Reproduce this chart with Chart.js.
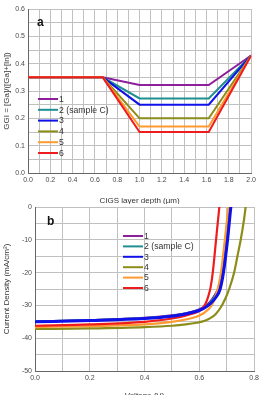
<!DOCTYPE html>
<html lang="en">
<head>
<meta charset="UTF-8">
<title>GGI profiles and J-V curves</title>
<script src="https://cdn.jsdelivr.net/npm/chart.js@4.4.0/dist/chart.umd.min.js"></script>
<style>
    body { margin: 0; background: #fff; overflow: hidden; width: 259px; height: 395px; position: relative; }
    .box { position: absolute; left: 0; }
    #topBox { top: 0; width: 259px; height: 204px; overflow: hidden; }
    #botBox { top: 195px; width: 262px; height: 210px; }
</style>
</head>
<body>
<div id="topBox" class="box"><canvas id="ggiChart"></canvas></div>
<div id="botBox" class="box"><canvas id="jvChart"></canvas></div>
<script>
// series names and colours
const names = ['1', '2 (sample C)', '3', '4', '5', '6'];
const colors = ['#8e1f9a', '#1f8f8f', '#1010e8', '#8c8c1a', '#ff9a30', '#ee1c1c'];

// panel a: GGI vs depth
const depth = [0.0, 0.67, 1.0, 1.62, 2.0];
const ggi1 = [0.35, 0.35, 0.322, 0.322, 0.43];
const ggi2 = [0.35, 0.35, 0.273, 0.273, 0.43];
const ggi3 = [0.35, 0.35, 0.25, 0.25, 0.43];
const ggi4 = [0.35, 0.35, 0.20, 0.20, 0.43];
const ggi5 = [0.35, 0.35, 0.17, 0.17, 0.43];
const ggi6 = [0.35, 0.35, 0.15, 0.15, 0.43];

// panel b: J-V curves (voltage, current density)
const v1 = [0, 0.2, 0.4, 0.5, 0.55, 0.58, 0.6, 0.62, 0.64, 0.657, 0.673, 0.685, 0.70, 0.712, 0.72];
const j1 = [-34.9, -34.5, -33.8, -33.0, -32.4, -31.8, -31.2, -30.3, -28.8, -26.8, -24.0, -20, -10, 0, 5];
const v2 = [0, 0.2, 0.4, 0.5, 0.55, 0.58, 0.6, 0.62, 0.64, 0.658, 0.674, 0.686, 0.70, 0.713, 0.72];
const j2 = [-34.9, -34.5, -33.9, -33.2, -32.5, -31.9, -31.4, -30.5, -29.1, -27.0, -24.2, -20, -10.5, 0, 5];
const v3 = [0, 0.2, 0.4, 0.5, 0.55, 0.58, 0.6, 0.62, 0.64, 0.66, 0.676, 0.688, 0.703, 0.715, 0.722];
const j3 = [-35.0, -34.6, -34.0, -33.3, -32.6, -32.0, -31.5, -30.7, -29.5, -27.6, -25, -20, -10, 0, 5];
const v4 = [0, 0.2, 0.4, 0.5, 0.55, 0.59, 0.62, 0.64, 0.66, 0.679, 0.695, 0.709, 0.727, 0.739, 0.751, 0.761, 0.769, 0.776];
const j4 = [-37.2, -37.0, -36.6, -36.2, -35.8, -35.3, -34.7, -33.9, -32.6, -30.5, -27.9, -25, -20, -15, -10, -5, 0, 5];
const v5 = [0, 0.2, 0.4, 0.5, 0.55, 0.58, 0.6, 0.62, 0.643, 0.656, 0.667, 0.679, 0.693, 0.706, 0.713];
const j5 = [-36.6, -36.3, -35.8, -35.0, -34.3, -33.7, -33.1, -32.1, -30.2, -28.0, -25, -20, -10, 0, 5];
const v6 = [0, 0.2, 0.4, 0.5, 0.55, 0.58, 0.6, 0.61, 0.622, 0.632, 0.641, 0.649, 0.661, 0.673, 0.68];
const j6 = [-36.2, -35.8, -35.0, -34.0, -33.1, -32.4, -31.7, -31.0, -29.6, -27.4, -24.5, -20, -10, 0, 5];

const ggiSets = [ggi1, ggi2, ggi3, ggi4, ggi5, ggi6];
const jvSets = [[v1, j1], [v2, j2], [v3, j3], [v4, j4], [v5, j5], [v6, j6]];

const FONT = 'Liberation Sans, Arial, sans-serif';
Chart.defaults.font.family = FONT;
Chart.defaults.color = '#4a4a4a';

function pts(xs, ys) {
    return xs.map((x, i) => ({ x: x, y: ys[i] }));
}

// draws panel letter and an inline legend
function panelDecor(letter, lx, ly, legX, legY, legStep) {
    return {
        id: 'decor' + letter,
        afterDraw(chart) {
            const ctx = chart.ctx;
            const a = chart.chartArea;
            ctx.save();
            ctx.fillStyle = '#111';
            ctx.font = 'bold 12px ' + FONT;
            ctx.textBaseline = 'middle';
            ctx.fillText(letter, a.left + lx, a.top + ly);
            ctx.font = '8.7px ' + FONT;
            names.forEach((n, i) => {
                const y = a.top + legY + i * legStep;
                ctx.strokeStyle = colors[i];
                ctx.lineWidth = 2;
                ctx.beginPath();
                ctx.moveTo(a.left + legX, y);
                ctx.lineTo(a.left + legX + 20, y);
                ctx.stroke();
                ctx.fillStyle = '#333';
                ctx.fillText(n, a.left + legX + 21, y + 0.5);
            });
            ctx.restore();
        }
    };
}

const gridOpts = { color: '#c0c0c0', borderDash: [1, 2], lineWidth: 1, drawTicks: false };
const borderOpts = { display: true, color: '#666', width: 1 };
const isMajor = (v, step) => Math.abs(v / step - Math.round(v / step)) < 1e-6;

new Chart(document.getElementById('ggiChart'), {
    type: 'line',
    data: {
        datasets: ggiSets.map((g, i) => ({
            label: names[i],
            data: pts(depth, g),
            borderColor: colors[i],
            borderWidth: 2,
            pointRadius: 0,
            fill: false,
            order: 5 - i
        }))
    },
    options: {
        responsive: true,
        maintainAspectRatio: false,
        animation: false,
        layout: { padding: { top: 9, right: 5, left: 2, bottom: 0 } },
        plugins: { legend: { display: false }, tooltip: { enabled: false } },
        scales: {
            x: {
                type: 'linear', min: 0, max: 2,
                grid: gridOpts, border: borderOpts,
                ticks: {
                    stepSize: 0.1, autoSkip: false, maxRotation: 0, padding: 3,
                    font: { size: 7 },
                    callback: v => isMajor(v, 0.2) ? v.toFixed(1) : ''
                },
                title: { display: true, text: 'CIGS layer depth (\u00b5m)', font: { size: 8 }, color: '#333', padding: { top: 0, bottom: -2 } },
                afterFit: s => { s.height = 31; }
            },
            y: {
                type: 'linear', min: 0, max: 0.6,
                grid: gridOpts, border: borderOpts,
                ticks: {
                    stepSize: 0.05, autoSkip: false, padding: 3,
                    font: { size: 7 },
                    callback: v => isMajor(v, 0.1) ? v.toFixed(1) : ''
                },
                title: { display: true, text: 'GGI = [Ga]/([Ga]+[In])', font: { size: 8 }, color: '#333', padding: 0 },
                afterFit: s => { s.width = 26; }
            }
        }
    },
    plugins: [panelDecor('a', 9, 14, 10, 90, 10.8)]
});

new Chart(document.getElementById('jvChart'), {
    type: 'line',
    data: {
        datasets: jvSets.map((s, i) => ({
            label: names[i],
            data: pts(s[0], s[1]),
            borderColor: colors[i],
            borderWidth: i === 2 ? 3 : 2.2,
            pointRadius: 0,
            fill: false,
            cubicInterpolationMode: 'monotone',
            order: i === 2 ? 0 : (i === 5 ? 1 : 6 - i)
        }))
    },
    options: {
        responsive: true,
        maintainAspectRatio: false,
        animation: false,
        layout: { padding: { top: 12, right: 5, left: 2, bottom: 0 } },
        plugins: { legend: { display: false }, tooltip: { enabled: false } },
        scales: {
            x: {
                type: 'linear', min: 0, max: 0.8,
                grid: gridOpts, border: borderOpts,
                ticks: {
                    stepSize: 0.1, autoSkip: false, maxRotation: 0, padding: 3,
                    font: { size: 7 },
                    callback: v => isMajor(v, 0.2) ? v.toFixed(1) : ''
                },
                title: { display: true, text: 'Voltage (V)', font: { size: 8 }, color: '#333', padding: { top: 3 } },
                afterFit: s => { s.height = 34; }
            },
            y: {
                type: 'linear', min: -50, max: 0,
                grid: gridOpts, border: borderOpts,
                ticks: {
                    stepSize: 5, autoSkip: false, padding: 3,
                    font: { size: 7 },
                    callback: v => isMajor(v, 10) ? String(v) : ''
                },
                title: { display: true, text: 'Current Density (mA/cm\u00b2)', font: { size: 8 }, color: '#333', padding: 0 },
                afterFit: s => { s.width = 33; }
            }
        }
    },
    plugins: [panelDecor('b', 12, 15, 88, 29, 10.4)]
});
</script>
</body>
</html>
